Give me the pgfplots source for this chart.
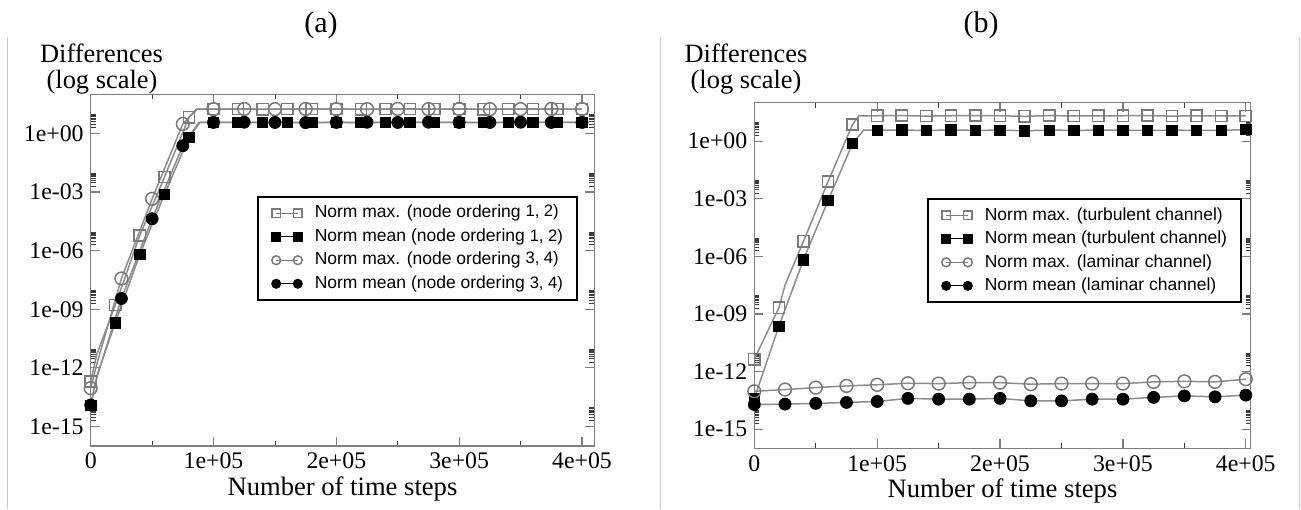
\documentclass[border=0pt]{standalone}
\usepackage{pgfplots}
\pgfplotsset{compat=1.18}
\usepackage{pgfplotstable}
\usepackage{fontspec}
\setmainfont{Liberation Serif}
\newfontfamily\legfont{Liberation Sans}
\definecolor{axgray}{HTML}{7F7F7F}
\definecolor{mkgray}{HTML}{7A7A7A}
\definecolor{lngray}{HTML}{8C8C8C}
\definecolor{tkgray}{HTML}{3C3C3C}
\definecolor{sepgray}{HTML}{C8C8C8}

% columns: x, line vertex, marker (nan = line vertex only)
% (a) node ordering 1, 2 -- max
\pgfplotstableread{
x y m
0 2.0e-13 2.0e-13
5000 5.0e-12 nan
20000 1.62e-9 1.62e-9
40000 6.03e-6 6.03e-6
60000 5.75e-3 5.75e-3
80000 6.61 6.61
87000 17.4 nan
100000 17.4 17.4
120000 17.8 17.8
140000 17.0 17.0
160000 17.4 17.4
180000 17.8 17.8
200000 17.4 17.4
220000 17.0 17.0
240000 17.4 17.4
260000 17.8 17.8
280000 17.4 17.4
300000 17.4 17.4
320000 17.0 17.0
340000 17.4 17.4
360000 17.8 17.8
380000 17.4 17.4
400000 17.4 17.4
}\amax
% (a) node ordering 1, 2 -- mean
\pgfplotstableread{
x y m
0 1.17e-14 1.17e-14
5000 4.0e-13 nan
20000 2.04e-10 2.04e-10
40000 6.46e-7 6.46e-7
60000 7.41e-4 7.41e-4
80000 0.631 0.631
89000 3.63 nan
100000 3.63 3.63
120000 3.72 3.72
140000 3.55 3.55
160000 3.63 3.63
180000 3.72 3.72
200000 3.63 3.63
220000 3.55 3.55
240000 3.63 3.63
260000 3.72 3.72
280000 3.63 3.63
300000 3.63 3.63
320000 3.55 3.55
340000 3.63 3.63
360000 3.72 3.72
380000 3.63 3.63
400000 3.63 3.63
}\amean
% (a) node ordering 3, 4 -- max
\pgfplotstableread{
x y m
0 9.12e-14 9.12e-14
5000 1.58e-12 nan
25000 3.72e-8 3.72e-8
50000 4.47e-4 4.47e-4
75000 3.02 3.02
86000 17.4 nan
100000 17.4 17.4
125000 17.8 17.8
150000 17.4 17.4
175000 17.8 17.8
200000 17.4 17.4
225000 17.4 17.4
250000 17.8 17.8
275000 17.4 17.4
300000 17.8 17.8
325000 17.4 17.4
350000 17.4 17.4
375000 17.8 17.8
400000 17.4 17.4
}\bmax
% (a) node ordering 3, 4 -- mean
\pgfplotstableread{
x y m
0 1.26e-14 1.26e-14
5000 3.16e-13 nan
25000 3.55e-9 3.55e-9
50000 4.27e-5 4.27e-5
75000 0.234 0.234
88000 3.63 nan
100000 3.63 3.63
125000 3.72 3.72
150000 3.63 3.63
175000 3.55 3.55
200000 3.63 3.63
225000 3.72 3.72
250000 3.63 3.63
275000 3.72 3.72
300000 3.63 3.63
325000 3.63 3.63
350000 3.72 3.72
375000 3.63 3.63
400000 3.63 3.63
}\bmean
% (b) turbulent channel -- max
\pgfplotstableread{
x y m
0 4.37e-12 4.37e-12
20000 2.09e-9 2.09e-9
25000 3.16e-8 nan
40000 6.03e-6 6.03e-6
60000 7.76e-3 7.76e-3
80000 7.41 7.41
85000 20.4 nan
100000 20.9 20.9
120000 21.4 21.4
140000 20.0 20.0
160000 20.9 20.9
180000 21.4 21.4
200000 20.9 20.9
220000 19.5 19.5
240000 21.4 21.4
260000 20.4 20.4
280000 20.9 20.9
300000 20.9 20.9
320000 21.4 21.4
340000 20.0 20.0
360000 20.9 20.9
380000 20.4 20.4
400000 20.4 20.4
}\tmax
% (b) turbulent channel -- mean
\pgfplotstableread{
x y m
0 3.98e-14 3.98e-14
20000 2.29e-10 2.29e-10
40000 6.61e-7 6.61e-7
60000 7.94e-4 7.94e-4
80000 0.759 0.759
89000 3.72 nan
100000 3.72 3.72
120000 3.80 3.80
140000 3.55 3.55
160000 3.80 3.80
180000 3.63 3.63
200000 3.72 3.72
220000 3.47 3.47
240000 3.72 3.72
260000 3.63 3.63
280000 3.72 3.72
300000 3.72 3.72
320000 3.55 3.55
340000 3.72 3.72
360000 3.63 3.63
380000 3.63 3.63
400000 3.98 3.98
}\tmean
% (b) laminar channel -- max and mean
\pgfplotstableread{
x max mean
0 9.33e-14 1.91e-14
25000 1.15e-13 2.00e-14
50000 1.45e-13 2.19e-14
75000 1.78e-13 2.45e-14
100000 2.04e-13 2.75e-14
125000 2.45e-13 3.98e-14
150000 2.34e-13 3.63e-14
175000 2.63e-13 3.63e-14
200000 2.63e-13 3.98e-14
225000 2.19e-13 2.95e-14
250000 2.34e-13 2.95e-14
275000 2.34e-13 3.63e-14
300000 2.34e-13 3.63e-14
325000 2.88e-13 4.47e-14
350000 3.09e-13 5.37e-14
375000 2.88e-13 4.79e-14
400000 3.98e-13 5.89e-14
}\lam

\pgfplotsset{
  every axis/.append style={
    scale only axis,
    anchor=south west,
    xmin=0, ymin=1e-16, ymax=1e2,
    clip=false,
    scaled x ticks=false,
    xtick={0,100000,200000,300000,400000},
    xticklabels={0,1e+05,2e+05,3e+05,4e+05},
    minor x tick num=1,
    ytick={1e-15,1e-12,1e-9,1e-6,1e-3,1},
    yticklabels={1e-15,1e-12,1e-09,1e-06,1e-03,1e+00},
    minor ytick={2e-15,3e-15,4e-15,5e-15,6e-15,7e-15,8e-15,9e-15,
      2e-12,3e-12,4e-12,5e-12,6e-12,7e-12,8e-12,9e-12,
      2e-9,3e-9,4e-9,5e-9,6e-9,7e-9,8e-9,9e-9,
      2e-6,3e-6,4e-6,5e-6,6e-6,7e-6,8e-6,9e-6,
      2e-3,3e-3,4e-3,5e-3,6e-3,7e-3,8e-3,9e-3,
      2,3,4,5,6,7,8,9},
    tick align=inside,
    major tick length=4.5pt,
    minor tick length=2.5pt,
    axis line style={axgray, line width=0.7pt},
    major tick style={axgray, line width=0.6pt},
    minor tick style={tkgray, line width=0.4pt},
    ticklabel style={font=\fontsize{11.9}{13}\selectfont},
    xlabel style={at={(axis description cs:0.5,0)}, anchor=center,
      yshift=-21.5pt, font=\fontsize{13.3}{15}\selectfont},
    legend cell align=left,
    legend style={draw=black, line width=1pt, fill=white, anchor=north east,
      inner xsep=7pt, inner ysep=4pt, row sep=3.45pt,
      font=\legfont\fontsize{8.75}{10}\selectfont,
      nodes={inner sep=0pt, text height=6.5pt, text depth=1.8pt},
      /tikz/every odd column/.append style={column sep=6.3pt}},
  },
}
\newcommand{\legimg}{\pgfplotsset{legend image code/.code={\draw[##1, sharp plot, mark size=2.2pt, line width=0.6pt]
      plot coordinates {(0pt,0pt) (10.8pt,0pt)};}}}

\begin{document}
\begin{tikzpicture}
\useasboundingbox (0,0) rectangle (650.5pt,254.5pt);
\draw[sepgray, line width=0.5pt] (3.65pt,0) -- (3.65pt,236pt);
\draw[sepgray, line width=0.5pt] (330.35pt,0) -- (330.35pt,236pt);
\draw[sepgray, line width=0.5pt] (649.65pt,0) -- (649.65pt,236pt);

\begin{axis}[ymode=log, at={(45.35pt,31.5pt)}, width=251.8pt, height=175.85pt,
  xmax=410000, xlabel={Number of time steps},
  legend style={at={(0.9676,0.711)}}]
\legimg
\addplot[lngray, line width=0.75pt, no marks, forget plot] table[x=x, y=y] {\amax};
\addplot[lngray, line width=0.75pt, no marks, forget plot] table[x=x, y=y] {\amean};
\addplot[lngray, line width=0.75pt, no marks, forget plot] table[x=x, y=y] {\bmax};
\addplot[lngray, line width=0.75pt, no marks, forget plot] table[x=x, y=y] {\bmean};
\addplot[only marks, mark=square, mark size=2.8pt, mkgray, mark options={line width=0.75pt}] table[x=x, y=m] {\amax};
\addplot[only marks, mark=square*, mark size=2.6pt, black] table[x=x, y=m] {\amean};
\addplot[only marks, mark=o, mark size=3.2pt, mkgray, mark options={line width=0.75pt}] table[x=x, y=m] {\bmax};
\addplot[only marks, mark=*, mark size=3.0pt, black] table[x=x, y=m] {\bmean};
\legend{Norm max. (node ordering \raisebox{0.8pt}{\fontsize{8.3}{9}\selectfont 1, 2)},
  Norm mean (node ordering {\fontsize{8.3}{9}\selectfont 1, 2)},
  Norm max. (node ordering \raisebox{0.8pt}{\fontsize{8.3}{9}\selectfont 3, 4)},
  Norm mean (node ordering {\fontsize{8.3}{9}\selectfont 3, 4)}}
\end{axis}

\begin{axis}[ymode=log, at={(377.15pt,30.35pt)}, width=248.2pt, height=172.8pt,
  xmax=404000, xlabel={Number of time steps},
  legend style={at={(0.9825,0.7242)}}]
\legimg
\addplot[lngray, line width=0.75pt, no marks, forget plot] table[x=x, y=y] {\tmax};
\addplot[lngray, line width=0.75pt, no marks, forget plot] table[x=x, y=y] {\tmean};
\addplot[lngray, line width=0.75pt, no marks, forget plot] table[x=x, y=max] {\lam};
\addplot[lngray, line width=0.75pt, no marks, forget plot] table[x=x, y=mean] {\lam};
\addplot[only marks, mark=square, mark size=2.8pt, mkgray, mark options={line width=0.75pt}] table[x=x, y=m] {\tmax};
\addplot[only marks, mark=square*, mark size=2.6pt, black] table[x=x, y=m] {\tmean};
\addplot[only marks, mark=o, mark size=3.2pt, mkgray, mark options={line width=0.75pt}] table[x=x, y=max] {\lam};
\addplot[only marks, mark=*, mark size=3.0pt, black] table[x=x, y=mean] {\lam};
\legend{Norm max. (turbulent channel), Norm mean (turbulent channel),
  Norm max. (laminar channel), Norm mean (laminar channel)}
\end{axis}

\node[font=\fontsize{15}{17}\selectfont] at (160.5pt,242pt) {(a)};
\node[font=\fontsize{15}{17}\selectfont] at (490.5pt,242pt) {(b)};
\node[font=\fontsize{13.2}{15}\selectfont] at (50.75pt,228pt) {Differences};
\node[font=\fontsize{13.2}{15}\selectfont] at (51pt,213.5pt) {(log scale)};
\node[font=\fontsize{13.2}{15}\selectfont] at (373pt,228pt) {Differences};
\node[font=\fontsize{13.2}{15}\selectfont] at (373pt,213.5pt) {(log scale)};
\end{tikzpicture}
\end{document}
